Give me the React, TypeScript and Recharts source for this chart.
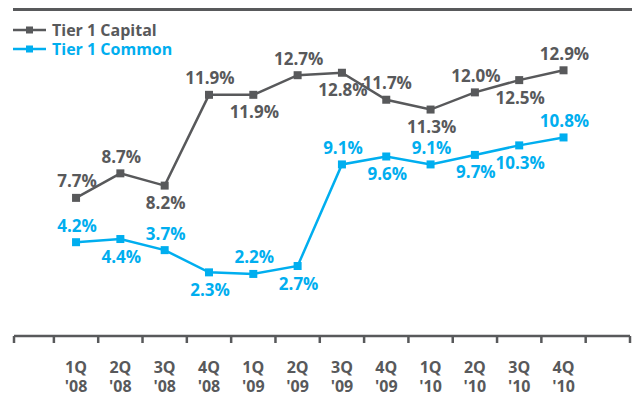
import { LineChart, Line, XAxis, YAxis, LabelList } from "recharts";

// quarters shown on the x axis (two-line labels)
const quarters = ["1Q", "2Q", "3Q", "4Q", "1Q", "2Q", "3Q", "4Q", "1Q", "2Q", "3Q", "4Q"];
const years = ["'08", "'08", "'08", "'08", "'09", "'09", "'09", "'09", "'10", "'10", "'10", "'10"];

// ratios in %
const tier1Capital = [7.7, 8.7, 8.2, 11.9, 11.9, 12.7, 12.8, 11.7, 11.3, 12.0, 12.5, 12.9];
const tier1Common = [4.2, 4.4, 3.7, 2.3, 2.2, 2.7, 9.1, 9.6, 9.1, 9.7, 10.3, 10.8];

// which value labels sit under their point
const capitalBelow = [false, false, true, false, true, false, true, false, true, false, true, false];
const commonBelow = [false, true, false, true, false, true, false, true, false, true, true, false];

// tick marks sit on the category boundaries
const boundaryTicks = [0.1, 1, 2, 3, 4, 5, 6, 7, 8, 9, 10, 11, 12, 13, 14];

const GRAY = "#58595b";
const CYAN = "#00aeef";
const FONT = "'Open Sans', sans-serif";

const W = 633;
const H = 408;
const PLOT_LEFT = 14;
const PLOT_RIGHT = 630;
const AXIS_Y = 336;
const X_DOMAIN: [number, number] = [0.1, 14];
const BAND = (PLOT_RIGHT - PLOT_LEFT) / (X_DOMAIN[1] - X_DOMAIN[0]);

const data = quarters.map((q, i) => ({
  pos: i + 1.5,
  quarter: q,
  year: years[i],
  capital: tier1Capital[i],
  common: tier1Common[i],
}));

const squareDot = (color: string) => (props: any) => {
  const { cx, cy, index } = props;
  if (cx == null || cy == null) return <g key={`d-${index}`} />;
  return <rect key={`d-${color}-${index}`} x={cx - 4} y={cy - 4} width={8} height={8} fill={color} />;
};

const valueLabel = (color: string, below: boolean[]) => (props: any) => {
  const { x, y, value, index } = props;
  const dy = below[index] ? 17 : -17;
  return (
    <text
      key={`l-${color}-${index}`}
      x={x + 1}
      y={y + dy}
      textAnchor="middle"
      dominantBaseline="central"
      fill={color}
      fontFamily={FONT}
      fontWeight={700}
      fontSize={17}
    >
      {`${Number(value).toFixed(1)}%`}
    </text>
  );
};

// two-line quarter label, centred in the band right of the boundary tick
const QuarterTick = (props: any) => {
  const { x, payload } = props;
  const i = Math.round(payload.value) - 1;
  if (payload.value % 1 !== 0 || i < 0 || i >= quarters.length) return <g />;
  const cx = x + BAND / 2;
  return (
    <text
      x={cx}
      y={AXIS_Y + 37}
      textAnchor="middle"
      fill={GRAY}
      fontFamily={FONT}
      fontWeight={700}
      fontSize={16}
    >
      <tspan x={cx}>{quarters[i]}</tspan>
      <tspan x={cx} dy={19}>
        {years[i]}
      </tspan>
    </text>
  );
};

function LegendRow({ color, label }: { color: string; label: string }) {
  return (
    <div style={{ display: "flex", alignItems: "center", height: 19 }}>
      <svg width={38} height={10} style={{ marginRight: 1 }}>
        <line x1={0} y1={5} x2={33} y2={5} stroke={color} strokeWidth={2.5} />
        <rect x={13} y={1.5} width={7} height={7} fill={color} />
      </svg>
      <span style={{ color, fontFamily: FONT, fontWeight: 700, fontSize: 16, lineHeight: "18px" }}>
        {label}
      </span>
    </div>
  );
}

export default function App() {
  return (
    <div style={{ position: "relative", width: W, height: H, background: "#fff" }}>
      <style>{`body{margin:0}`}</style>
      <div
        style={{
          position: "absolute",
          left: 13,
          top: 8,
          width: 619,
          height: 2.5,
          background: GRAY,
        }}
      />
      <div style={{ position: "absolute", left: 13, top: 20 }}>
        <LegendRow color={GRAY} label="Tier 1 Capital" />
        <LegendRow color={CYAN} label="Tier 1 Common" />
      </div>
      <LineChart
        width={W}
        height={H}
        data={data}
        margin={{ top: 20, right: W - PLOT_RIGHT, left: PLOT_LEFT, bottom: 0 }}
      >
        <XAxis
          dataKey="pos"
          type="number"
          domain={X_DOMAIN}
          ticks={boundaryTicks}
          interval={0}
          height={H - AXIS_Y}
          axisLine={{ stroke: GRAY, strokeWidth: 2.5 }}
          tickLine={{ stroke: GRAY, strokeWidth: 2.5 }}
          tickSize={7}
          tick={<QuarterTick />}
        />
        <YAxis yAxisId="capital" hide type="number" domain={[2.07, 14.95]} allowDataOverflow />
        <YAxis yAxisId="common" hide type="number" domain={[-1.71, 18.2]} allowDataOverflow />
        <Line
          yAxisId="capital"
          dataKey="capital"
          type="linear"
          stroke={GRAY}
          strokeWidth={2.5}
          dot={squareDot(GRAY)}
          isAnimationActive={false}
        >
          <LabelList dataKey="capital" content={valueLabel(GRAY, capitalBelow)} />
        </Line>
        <Line
          yAxisId="common"
          dataKey="common"
          type="linear"
          stroke={CYAN}
          strokeWidth={2.5}
          dot={squareDot(CYAN)}
          isAnimationActive={false}
        >
          <LabelList dataKey="common" content={valueLabel(CYAN, commonBelow)} />
        </Line>
      </LineChart>
    </div>
  );
}
